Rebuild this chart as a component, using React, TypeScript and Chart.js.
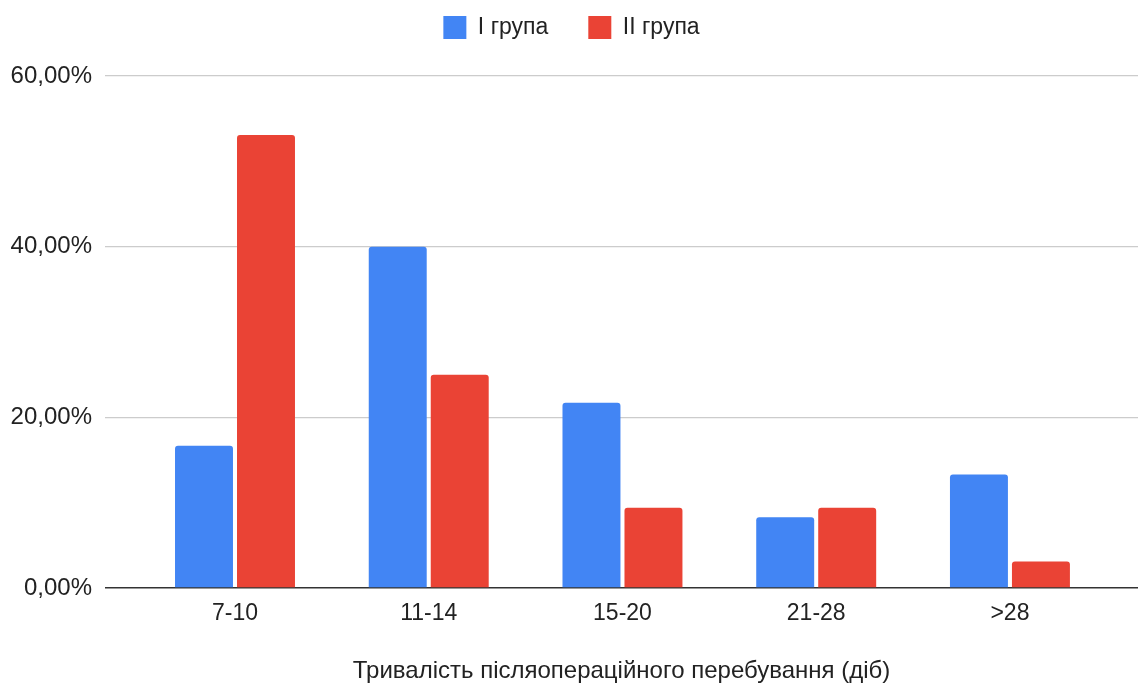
import React, { useEffect, useRef } from "react";
import { Chart, registerables } from "chart.js";

Chart.register(...registerables);

const categories = ["7-10", "11-14", "15-20", "21-28", ">28"];
const group1Label = "I група";
const group2Label = "II група";
const group1Values = [16.67, 40.0, 21.7, 8.3, 13.3];
const group2Values = [53.1, 25.0, 9.4, 9.4, 3.1];
const yTicks = [0, 20, 40, 60];
const xTitle = "Тривалість післяопераційного перебування (діб)";

const FONT = 'Arial, "Liberation Sans", sans-serif';

export default function App() {
  const ref = useRef<HTMLCanvasElement | null>(null);

  useEffect(() => {
    if (!ref.current) return;
    const legendFix = {
      id: "legendFix",
      beforeLayout(chart: any) {
        const lg = chart.legend;
        if (lg && !lg.__wrapped) {
          const orig = lg.fit.bind(lg);
          lg.fit = function () {
            orig();
            this.height = 76;
          };
          lg.__wrapped = true;
        }
      },
      afterLayout(chart: any) {
        const lg = chart.legend;
        if (!lg) return;
        const dy = -24;
        lg.top += dy;
        lg.bottom += dy;
        const dx = 2.5;
        lg.left += dx;
        lg.right += dx;
      },
    };
    const chart = new Chart(ref.current, {
      type: "bar",
      data: {
        datasets: [
          {
            label: group1Label,
            data: group1Values.map((v, i) => ({ x: i, y: v })),
            backgroundColor: "#4285F4",
            borderRadius: { topLeft: 3, topRight: 3, bottomLeft: 0, bottomRight: 0 },
            borderSkipped: "start",
            categoryPercentage: 0.64,
            barPercentage: 0.935,
          },
          {
            label: group2Label,
            data: group2Values.map((v, i) => ({ x: i, y: v })),
            backgroundColor: "#EA4335",
            borderRadius: { topLeft: 3, topRight: 3, bottomLeft: 0, bottomRight: 0 },
            borderSkipped: "start",
            categoryPercentage: 0.64,
            barPercentage: 0.935,
          },
        ],
      },
      options: {
        animation: false,
        responsive: true,
        maintainAspectRatio: false,
        layout: { padding: { top: 0, left: 0, right: 0, bottom: 0 } },
        plugins: {
          legend: {
            position: "top",
            align: "center",
            labels: {
              boxWidth: 23,
              boxHeight: 23,
              padding: 40,
              color: "#222",
              font: { family: FONT, size: 23 },
            },
          },
          tooltip: { enabled: false },
        },
        scales: {
          x: {
            type: "linear",
            min: -0.671,
            max: 4.661,
            bounds: "data",
            offset: false,
            grid: { display: false, drawTicks: false, offset: false },
            border: { display: false },
            afterBuildTicks: (scale: any) => {
              scale.ticks = categories.map((_, i) => ({ value: i }));
            },
            afterFit: (scale: any) => {
              scale.height = 96;
            },
            ticks: {
              stepSize: 1,
              includeBounds: false,
              autoSkip: false,
              maxRotation: 0,
              padding: 12,
              color: "#222",
              font: { family: FONT, size: 23 },
              callback: (v: any) => categories[v as number] ?? "",
            },
            title: {
              display: true,
              text: xTitle,
              color: "#222",
              font: { family: FONT, size: 24 },
              padding: { top: 30, bottom: -2 },
            },
          },
          y: {
            min: 0,
            max: 60,
            afterBuildTicks: (scale: any) => {
              scale.ticks = yTicks.map((v) => ({ value: v }));
            },
            afterFit: (scale: any) => {
              scale.width = 105;
            },
            grid: {
              drawTicks: false,
              color: (ctx: any) => (ctx.tick && ctx.tick.value === 0 ? "#333" : "#cccccc"),
              lineWidth: (ctx: any) => (ctx.tick && ctx.tick.value === 0 ? 1.5 : 1.2),
            },
            border: { display: false },
            ticks: {
              padding: 13,
              color: "#222",
              font: { family: FONT, size: 24 },
              callback: (v: any) => Number(v).toFixed(2).replace(".", ",") + "%",
            },
          },
        },
      },
      plugins: [legendFix],
    });
    return () => chart.destroy();
  }, []);

  return (
    <div style={{ position: "fixed", left: 0, top: 0, width: 1138, height: 684, background: "#fff" }}>
      <canvas ref={ref} />
    </div>
  );
}
